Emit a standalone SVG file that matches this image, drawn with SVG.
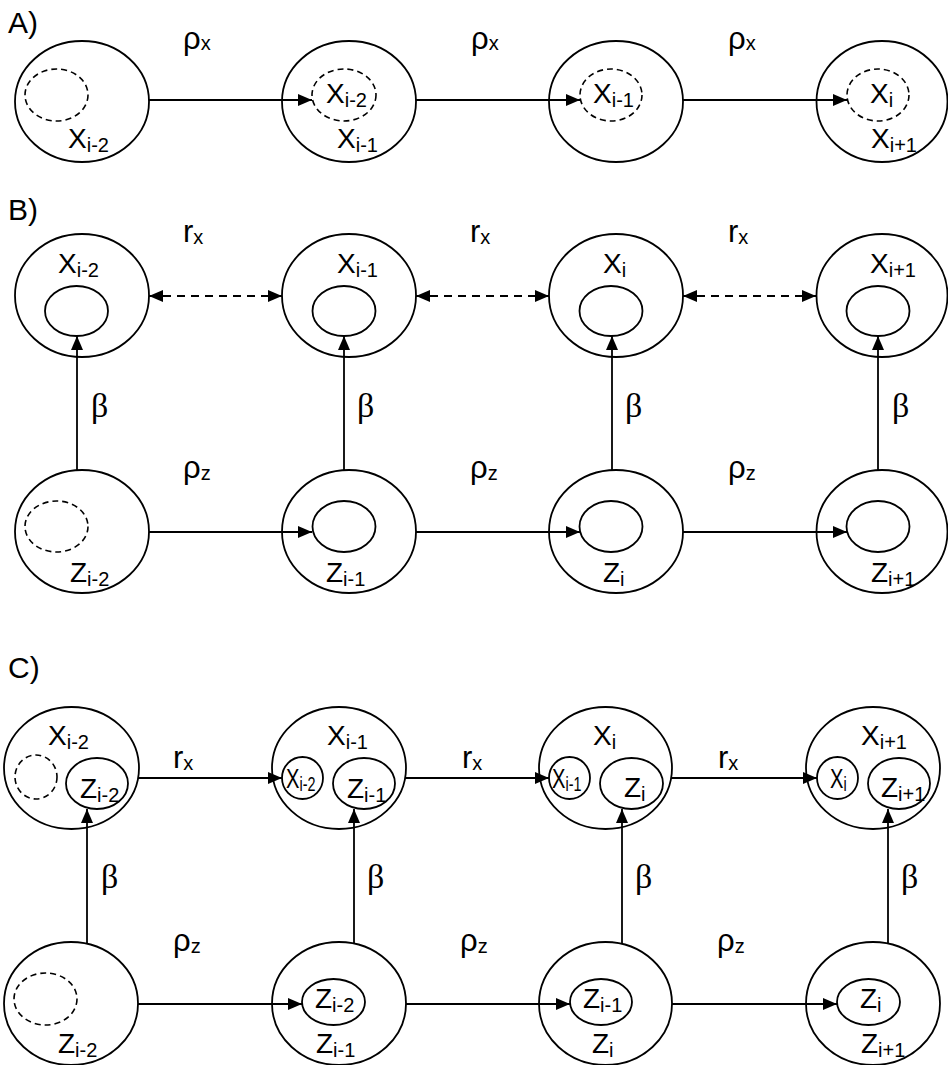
<svg xmlns="http://www.w3.org/2000/svg" width="948" height="1065" viewBox="0 0 948 1065">
<defs>
<marker id="ah" markerUnits="userSpaceOnUse" markerWidth="14" markerHeight="12" refX="14" refY="6" orient="auto-start-reverse">
<path d="M0,0 L14,6 L0,12 z" fill="#000"/>
</marker>
<style>
.o{fill:none;stroke:#000;stroke-width:1.8}
.d{fill:none;stroke:#000;stroke-width:1.6;stroke-dasharray:6,4}
.c{fill:none;stroke:#000;stroke-width:1.8}
.cd{fill:none;stroke:#000;stroke-width:1.8;stroke-dasharray:8,6}
text{font-family:"Liberation Sans",Arial,sans-serif;fill:#000}
.m{font-size:28px}
.s{font-size:20px}
.sec{font-size:30px}
.r{font-size:31px}
.rho{font-size:31px}
.b{font-family:"Liberation Serif","Times New Roman",serif;font-size:34px}
</style>
</defs>
<rect width="948" height="1065" fill="#fff"/>

<g id="section-labels">
<text class="sec" x="8" y="33">A)</text>
<text class="sec" x="8" y="220">B)</text>
<text class="sec" x="8" y="678">C)</text>
</g>

<!-- Section A -->
<g id="A1">
<ellipse class="o" cx="82" cy="101.5" rx="67" ry="60.5"/>
<ellipse class="d" cx="56.5" cy="95" rx="31.5" ry="26"/>
<text class="m" x="68" y="148">X<tspan class="s" dy="4">i-2</tspan></text>
</g>
<g id="A2">
<ellipse class="o" cx="349" cy="101.5" rx="67" ry="60.5"/>
<ellipse class="d" cx="344" cy="95" rx="32" ry="26"/>
<text class="m" x="326" y="103">X<tspan class="s" dy="4">i-2</tspan></text>
<text class="m" x="337" y="148">X<tspan class="s" dy="4">i-1</tspan></text>
</g>
<g id="A3">
<ellipse class="o" cx="616" cy="101.5" rx="67" ry="60.5"/>
<ellipse class="d" cx="611" cy="95" rx="31" ry="26"/>
<text class="m" x="593" y="103">X<tspan class="s" dy="4">i-1</tspan></text>
</g>
<g id="A4">
<ellipse class="o" cx="882" cy="101.5" rx="65.5" ry="60.5"/>
<ellipse class="d" cx="878" cy="95" rx="31" ry="26"/>
<text class="m" x="870" y="103">X<tspan class="s" dy="4">i</tspan></text>
<text class="m" x="871" y="148">X<tspan class="s" dy="4">i+1</tspan></text>
</g>

<!-- Section B -->
<g id="BX1">
<ellipse class="o" cx="82" cy="295.5" rx="67" ry="61.5"/>
<ellipse class="o" cx="76.5" cy="311" rx="31.5" ry="25"/>
<text class="m" x="58" y="273">X<tspan class="s" dy="4">i-2</tspan></text>
</g>
<g id="BX2">
<ellipse class="o" cx="349" cy="295.5" rx="67" ry="61.5"/>
<ellipse class="o" cx="344" cy="311" rx="31.5" ry="25"/>
<text class="m" x="337" y="273">X<tspan class="s" dy="4">i-1</tspan></text>
</g>
<g id="BX3">
<ellipse class="o" cx="616" cy="295.5" rx="67" ry="61.5"/>
<ellipse class="o" cx="611" cy="311" rx="31.5" ry="25"/>
<text class="m" x="603" y="273">X<tspan class="s" dy="4">i</tspan></text>
</g>
<g id="BX4">
<ellipse class="o" cx="882" cy="295.5" rx="65.5" ry="61.5"/>
<ellipse class="o" cx="878" cy="311" rx="31.5" ry="25"/>
<text class="m" x="870" y="273">X<tspan class="s" dy="4">i+1</tspan></text>
</g>
<g id="BZ1">
<ellipse class="o" cx="82" cy="531.5" rx="67" ry="61.5"/>
<ellipse class="d" cx="56.5" cy="526.5" rx="31.5" ry="25.5"/>
<text class="m" x="70" y="582">Z<tspan class="s" dy="4">i-2</tspan></text>
</g>
<g id="BZ2">
<ellipse class="o" cx="349" cy="531.5" rx="67" ry="61.5"/>
<ellipse class="o" cx="344" cy="526.5" rx="31.5" ry="25.5"/>
<text class="m" x="326" y="582">Z<tspan class="s" dy="4">i-1</tspan></text>
</g>
<g id="BZ3">
<ellipse class="o" cx="616" cy="531.5" rx="67" ry="61.5"/>
<ellipse class="o" cx="611" cy="526.5" rx="31.5" ry="25.5"/>
<text class="m" x="603" y="582">Z<tspan class="s" dy="4">i</tspan></text>
</g>
<g id="BZ4">
<ellipse class="o" cx="882" cy="531.5" rx="65.5" ry="61.5"/>
<ellipse class="o" cx="878" cy="526.5" rx="31.5" ry="25.5"/>
<text class="m" x="871" y="582">Z<tspan class="s" dy="4">i+1</tspan></text>
</g>

<!-- Section C -->
<g id="CX1">
<ellipse class="o" cx="71.5" cy="768" rx="67.5" ry="61"/>
<ellipse class="d" cx="36" cy="777" rx="21" ry="22"/>
<ellipse class="o" cx="97" cy="783.5" rx="31" ry="25.5"/>
<text class="m" x="48" y="745">X<tspan class="s" dy="4">i-2</tspan></text>
<text class="m" x="80" y="798">Z<tspan class="s" dy="4">i-2</tspan></text>
</g>
<g id="CX2">
<ellipse class="o" cx="339" cy="768" rx="67" ry="61"/>
<ellipse class="o" cx="302.5" cy="778" rx="20.5" ry="21"/>
<ellipse class="o" cx="364" cy="783.5" rx="31" ry="25.5"/>
<text class="m" x="327" y="745">X<tspan class="s" dy="4">i-1</tspan></text>
<text class="m" transform="translate(286,788) scale(0.72,1)">X<tspan class="s" dy="3">i-2</tspan></text>
<text class="m" x="347" y="798">Z<tspan class="s" dy="4">i-1</tspan></text>
</g>
<g id="CX3">
<ellipse class="o" cx="605.5" cy="768" rx="66.5" ry="61"/>
<ellipse class="o" cx="569.5" cy="778" rx="20.5" ry="21"/>
<ellipse class="o" cx="631.5" cy="783.5" rx="31.5" ry="25.5"/>
<text class="m" x="593" y="745">X<tspan class="s" dy="4">i</tspan></text>
<text class="m" transform="translate(552,788) scale(0.72,1)">X<tspan class="s" dy="3">i-1</tspan></text>
<text class="m" x="624" y="797">Z<tspan class="s" dy="4">i</tspan></text>
</g>
<g id="CX4">
<ellipse class="o" cx="873" cy="768" rx="67" ry="61"/>
<ellipse class="o" cx="837.5" cy="778" rx="20.5" ry="21"/>
<ellipse class="o" cx="899" cy="783.5" rx="31" ry="25.5"/>
<text class="m" x="861" y="745">X<tspan class="s" dy="4">i+1</tspan></text>
<text class="m" transform="translate(830,788) scale(0.72,1)">X<tspan class="s" dy="3">i</tspan></text>
<text class="m" x="881" y="797">Z<tspan class="s" dy="4">i+1</tspan></text>
</g>
<g id="CZ1">
<ellipse class="o" cx="71" cy="1003.5" rx="67" ry="61.5"/>
<ellipse class="d" cx="45.5" cy="999" rx="31.5" ry="26"/>
<text class="m" x="58" y="1053">Z<tspan class="s" dy="4">i-2</tspan></text>
</g>
<g id="CZ2">
<ellipse class="o" cx="339" cy="1003.5" rx="67" ry="61.5"/>
<ellipse class="o" cx="333.5" cy="1002" rx="31.5" ry="23"/>
<text class="m" x="315" y="1008">Z<tspan class="s" dy="4">i-2</tspan></text>
<text class="m" x="316" y="1053">Z<tspan class="s" dy="4">i-1</tspan></text>
</g>
<g id="CZ3">
<ellipse class="o" cx="605.5" cy="1003.5" rx="66.5" ry="61.5"/>
<ellipse class="o" cx="601" cy="1002" rx="31" ry="23"/>
<text class="m" x="583" y="1008">Z<tspan class="s" dy="4">i-1</tspan></text>
<text class="m" x="592" y="1053">Z<tspan class="s" dy="4">i</tspan></text>
</g>
<g id="CZ4">
<ellipse class="o" cx="873" cy="1003.5" rx="67" ry="61.5"/>
<ellipse class="o" cx="868.5" cy="1002" rx="31.5" ry="23"/>
<text class="m" x="860" y="1008">Z<tspan class="s" dy="4">i</tspan></text>
<text class="m" x="861" y="1053">Z<tspan class="s" dy="4">i+1</tspan></text>
</g>

<g id="connectors">
<line class="c" x1="149" y1="100" x2="312" y2="100" marker-end="url(#ah)"/>
<line class="c" x1="416" y1="100" x2="580" y2="100" marker-end="url(#ah)"/>
<line class="c" x1="683" y1="100" x2="847" y2="100" marker-end="url(#ah)"/>
<line class="cd" x1="149" y1="296" x2="282" y2="296" marker-start="url(#ah)" marker-end="url(#ah)"/>
<line class="cd" x1="416" y1="296" x2="549" y2="296" marker-start="url(#ah)" marker-end="url(#ah)"/>
<line class="cd" x1="683" y1="296" x2="816" y2="296" marker-start="url(#ah)" marker-end="url(#ah)"/>
<line class="c" x1="77" y1="470" x2="77" y2="336" marker-end="url(#ah)"/>
<line class="c" x1="344" y1="470" x2="344" y2="336" marker-end="url(#ah)"/>
<line class="c" x1="612" y1="470" x2="612" y2="336" marker-end="url(#ah)"/>
<line class="c" x1="878" y1="470" x2="878" y2="336" marker-end="url(#ah)"/>
<line class="c" x1="149" y1="532" x2="312" y2="532" marker-end="url(#ah)"/>
<line class="c" x1="416" y1="532" x2="580" y2="532" marker-end="url(#ah)"/>
<line class="c" x1="683" y1="532" x2="847" y2="532" marker-end="url(#ah)"/>
<line class="c" x1="138" y1="778" x2="282" y2="778" marker-end="url(#ah)"/>
<line class="c" x1="405" y1="778" x2="549" y2="778" marker-end="url(#ah)"/>
<line class="c" x1="671" y1="778" x2="817" y2="778" marker-end="url(#ah)"/>
<line class="c" x1="87" y1="943" x2="87" y2="809" marker-end="url(#ah)"/>
<line class="c" x1="354" y1="943" x2="354" y2="809" marker-end="url(#ah)"/>
<line class="c" x1="622" y1="943" x2="622" y2="809" marker-end="url(#ah)"/>
<line class="c" x1="888" y1="943" x2="888" y2="809" marker-end="url(#ah)"/>
<line class="c" x1="138" y1="1004" x2="302" y2="1004" marker-end="url(#ah)"/>
<line class="c" x1="406" y1="1004" x2="570" y2="1004" marker-end="url(#ah)"/>
<line class="c" x1="672" y1="1004" x2="837" y2="1004" marker-end="url(#ah)"/>
</g>

<g id="edge-labels">
<text class="rho" x="183" y="49">ρ<tspan class="s" dy="1">x</tspan></text>
<text class="rho" x="471" y="49">ρ<tspan class="s" dy="1">x</tspan></text>
<text class="rho" x="728" y="49">ρ<tspan class="s" dy="1">x</tspan></text>

<text class="r" x="183" y="242">r<tspan class="s" dy="2">x</tspan></text>
<text class="r" x="470" y="242">r<tspan class="s" dy="2">x</tspan></text>
<text class="r" x="728" y="242">r<tspan class="s" dy="2">x</tspan></text>

<text class="b" x="91" y="417">β</text>
<text class="b" x="357" y="417">β</text>
<text class="b" x="625" y="417">β</text>
<text class="b" x="892" y="417">β</text>

<text class="rho" x="183" y="478">ρ<tspan class="s" dy="2">z</tspan></text>
<text class="rho" x="470" y="478">ρ<tspan class="s" dy="2">z</tspan></text>
<text class="rho" x="728" y="478">ρ<tspan class="s" dy="2">z</tspan></text>

<text class="r" x="173" y="768">r<tspan class="s" dy="2">x</tspan></text>
<text class="r" x="462" y="768">r<tspan class="s" dy="2">x</tspan></text>
<text class="r" x="718" y="768">r<tspan class="s" dy="2">x</tspan></text>

<text class="b" x="101" y="888">β</text>
<text class="b" x="367" y="888">β</text>
<text class="b" x="635" y="888">β</text>
<text class="b" x="901" y="888">β</text>

<text class="rho" x="173" y="951">ρ<tspan class="s" dy="2">z</tspan></text>
<text class="rho" x="460" y="951">ρ<tspan class="s" dy="2">z</tspan></text>
<text class="rho" x="717" y="951">ρ<tspan class="s" dy="2">z</tspan></text>
</g>
</svg>
